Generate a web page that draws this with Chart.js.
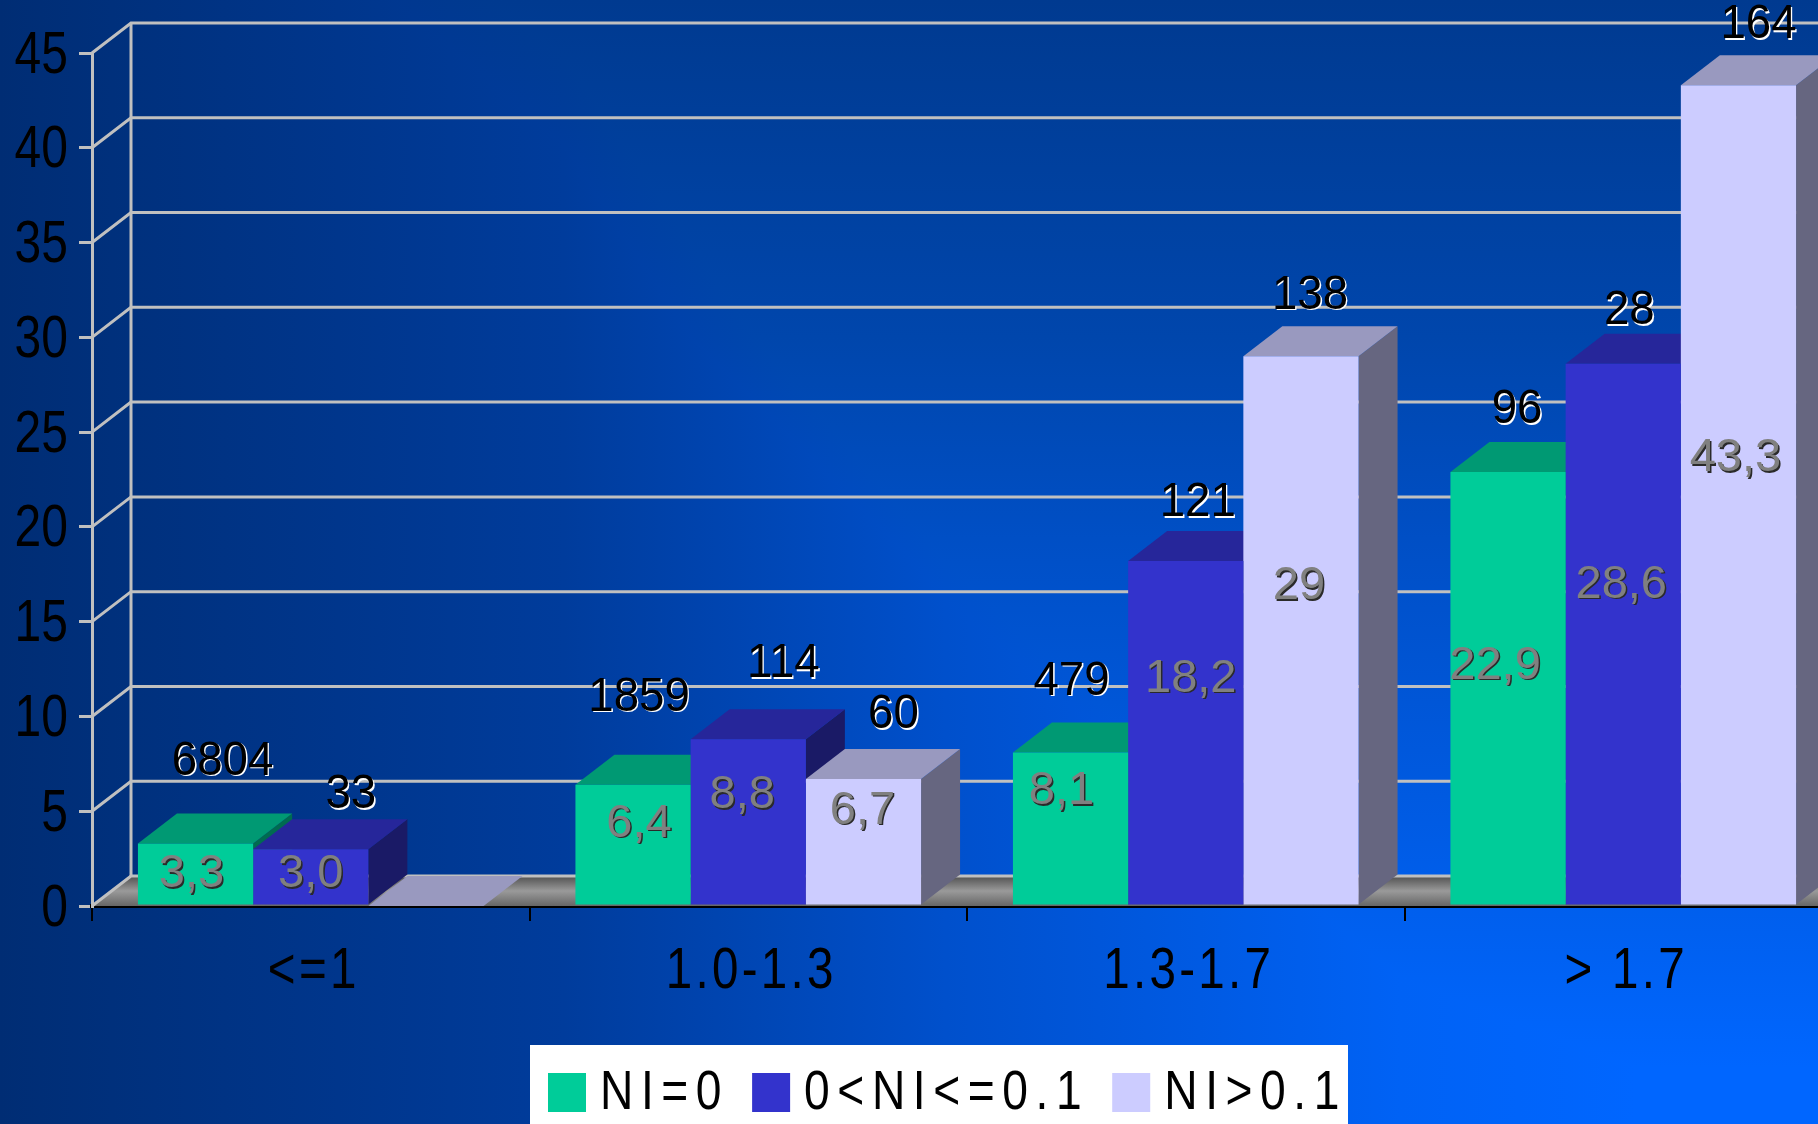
<!DOCTYPE html>
<html>
<head>
<meta charset="utf-8">
<style>
  html, body { margin: 0; width: 1818px; height: 1124px; overflow: hidden; }
  body {
    background-image:
      linear-gradient(to right, #002d74 0%, #003c9c 31%, #0050cc 52%, #0062f5 77%, #0066ff 90%),
      linear-gradient(to bottom, #003a90 0%, #0046ac 30%, #0050c8 50%, #005ce6 75%, #0066ff 95%);
    background-blend-mode: darken;
  }
  canvas { display: block; }
</style>
<script src="https://cdn.jsdelivr.net/npm/chart.js@4"></script>
</head>
<body>
<canvas id="chart" width="1900" height="1124"></canvas>
<script>
const categories = ['<=1', '1.0-1.3', '1.3-1.7', '> 1.7'];
const seriesNames = ['NI=0', '0<NI<=0.1', 'NI>0.1'];
const pctNI0 = [3.3, 6.4, 8.1, 22.9];
const pctNILow = [3.0, 8.8, 18.2, 28.6];
const pctNIHigh = [0, 6.7, 29, 43.3];
const pctTextNI0 = ['3,3', '6,4', '8,1', '22,9'];
const pctTextNILow = ['3,0', '8,8', '18,2', '28,6'];
const pctTextNIHigh = ['', '6,7', '29', '43,3'];
const countNI0 = ['6804', '1859', '479', '96'];
const countNILow = ['33', '114', '121', '28'];
const countNIHigh = ['', '60', '138', '164'];
const yTicks = [0, 5, 10, 15, 20, 25, 30, 35, 40, 45];

const FONT = '"Liberation Sans", sans-serif';
const DEPTH_X = 39, DEPTH_Y = 30;
const WALL = '#c0c0c0';

// front / top / side colour of each series
const faces = [
  { front: '#00cc99', top: '#009973', side: '#006b50' },
  { front: '#3333cc', top: '#26269a', side: '#1a1a66' },
  { front: '#ccccff', top: '#9999bf', side: '#666680' }
];

// the labels were placed by hand on the slide, so each one gets its own nudge from the bar top
const countNudge = [
  [[27, -82], [6, -87], [1, -71], [9, -62]],
  [[40, -54], [35, -75], [12, -58], [6, -53]],
  [[0, 0], [30, -64], [9, -61], [20, -60]]
];
const pctNudge = [
  [[-4, 31], [6, 39], [-9, 39], [-13, 194]],
  [[0, 25], [-6, 56], [5, 118], [-2, 221]],
  [[0, 0], [-1, 32], [-2, 230], [-3, 373]]
];
const countLabels = [countNI0, countNILow, countNIHigh];
const pctLabels = [pctTextNI0, pctTextNILow, pctTextNIHigh];

function poly(ctx, pts, fill) {
  ctx.beginPath();
  pts.forEach((p, i) => i ? ctx.lineTo(p[0], p[1]) : ctx.moveTo(p[0], p[1]));
  ctx.closePath();
  ctx.fillStyle = fill;
  ctx.fill();
}

// text squeezed along x, with an optional offset shadow behind it
function squeezed(ctx, txt, x, y, o) {
  ctx.save();
  ctx.translate(x, y);
  ctx.scale(o.sx, 1);
  ctx.font = o.size + 'px ' + FONT;
  ctx.letterSpacing = (o.spacing || 0) + 'px';
  if (o.shadow) {
    ctx.fillStyle = o.shadow;
    ctx.fillText(txt, 1.5, 1.5);
  }
  ctx.fillStyle = o.color;
  ctx.fillText(txt, 0, 0);
  ctx.restore();
}

// back wall, floor, bar depth, all the narrow lettering and the legend box
const depthPlugin = {
  id: 'depth',
  beforeDatasetsDraw(chart) {
    const { ctx, chartArea: a, scales: { y } } = chart;
    const right = chart.width;
    ctx.save();

    const floor = ctx.createLinearGradient(0, a.bottom - DEPTH_Y, 0, a.bottom);
    floor.addColorStop(0, '#505050');
    floor.addColorStop(0.5, '#9a9a9a');
    floor.addColorStop(1, '#666666');
    poly(ctx, [[a.left, a.bottom], [a.left + DEPTH_X, a.bottom - DEPTH_Y], [right, a.bottom - DEPTH_Y], [right, a.bottom]], floor);

    ctx.strokeStyle = WALL;
    ctx.lineWidth = 3;
    yTicks.forEach(t => {
      const py = y.getPixelForValue(t);
      ctx.beginPath();
      ctx.moveTo(a.left, py);
      ctx.lineTo(a.left + DEPTH_X, py - DEPTH_Y);
      ctx.lineTo(right, py - DEPTH_Y);
      ctx.stroke();
    });
    ctx.beginPath();
    ctx.moveTo(a.left + DEPTH_X, y.getPixelForValue(45) - DEPTH_Y);
    ctx.lineTo(a.left + DEPTH_X, a.bottom - DEPTH_Y);
    ctx.stroke();

    categories.forEach((c, i) => {
      chart.data.datasets.forEach((d, s) => {
        const bar = chart.getDatasetMeta(s).data[i];
        const x0 = bar.x - bar.width / 2, x1 = bar.x + bar.width / 2;
        poly(ctx, [[x1, bar.y], [x1 + DEPTH_X, bar.y - DEPTH_Y], [x1 + DEPTH_X, bar.base - DEPTH_Y], [x1, bar.base]], faces[s].side);
        poly(ctx, [[x0, bar.y], [x1, bar.y], [x1 + DEPTH_X, bar.y - DEPTH_Y], [x0 + DEPTH_X, bar.y - DEPTH_Y]], faces[s].top);
      });
    });
    ctx.restore();
  },
  afterDatasetsDraw(chart) {
    const { ctx } = chart;
    ctx.save();
    ctx.textAlign = 'center';
    ctx.textBaseline = 'middle';
    chart.data.datasets.forEach((d, s) => {
      chart.getDatasetMeta(s).data.forEach((bar, i) => {
        if (countLabels[s][i]) {
          const [cx, cy] = countNudge[s][i];
          squeezed(ctx, countLabels[s][i], bar.x + cx, bar.y + cy, { size: 48, sx: 0.95, color: '#000000', shadow: '#ffffff' });
        }
        if (pctLabels[s][i]) {
          const [px, py] = pctNudge[s][i];
          squeezed(ctx, pctLabels[s][i], bar.x + px, bar.y + py, { size: 47, sx: 1, color: '#808080', shadow: '#2a2a2a' });
        }
      });
    });
    ctx.restore();
  },
  afterDraw(chart) {
    const { ctx, scales: { x, y } } = chart;
    ctx.save();
    ctx.textBaseline = 'middle';

    // tick labels come off the scales, the font just has no narrow cut installed
    ctx.textAlign = 'right';
    y.ticks.forEach((t, i) => {
      squeezed(ctx, String(t.value), 68, y.getPixelForTick(i) + 3, { size: 60, sx: 0.8, color: '#000000' });
    });
    ctx.textAlign = 'center';
    x.ticks.forEach((t, i) => {
      squeezed(ctx, categories[i], x.getPixelForTick(i) + 3, 972, { size: 58, sx: 0.82, spacing: 4, color: '#000000' });
    });

    ctx.fillStyle = '#ffffff';
    ctx.fillRect(530, 1045, 818, 80);
    ctx.textAlign = 'left';
    let lx = 548;
    chart.data.datasets.forEach((d, s) => {
      ctx.fillStyle = faces[s].front;
      ctx.fillRect(lx, 1073, 38, 39);
      squeezed(ctx, d.label, lx + 52, 1094, { size: 55, sx: 0.84, spacing: 9, color: '#000000' });
      ctx.font = '55px ' + FONT;
      ctx.letterSpacing = '9px';
      lx += 52 + ctx.measureText(d.label).width * 0.84 + 23;
      ctx.letterSpacing = '0px';
    });
    ctx.restore();
  }
};

new Chart(document.getElementById('chart'), {
  type: 'bar',
  plugins: [depthPlugin],
  data: {
    labels: categories,
    datasets: [
      { label: seriesNames[0], data: pctNI0, backgroundColor: faces[0].front },
      { label: seriesNames[1], data: pctNILow, backgroundColor: faces[1].front },
      { label: seriesNames[2], data: pctNIHigh, backgroundColor: faces[2].front }
    ]
  },
  options: {
    responsive: false,
    animation: false,
    layout: { padding: { top: 53, right: 58, left: 0, bottom: 0 } },
    datasets: { bar: { barPercentage: 1, categoryPercentage: 0.79 } },
    plugins: { legend: { display: false }, tooltip: { enabled: false } },
    scales: {
      x: {
        z: 1,
        afterFit(s) { s.height = 218; },
        border: { color: '#000000', width: 4 },
        grid: { offset: true, drawOnChartArea: false, color: '#000000', tickLength: 15, lineWidth: 2 },
        ticks: { display: false }
      },
      y: {
        min: 0,
        max: 45,
        afterBuildTicks(s) { s.ticks = yTicks.map(v => ({ value: v })); },
        afterFit(s) { s.width = 92; },
        border: { color: WALL, width: 3 },
        grid: { drawOnChartArea: false, color: WALL, tickLength: 13, lineWidth: 3 },
        ticks: { display: false }
      }
    }
  }
});
</script>
</body>
</html>
